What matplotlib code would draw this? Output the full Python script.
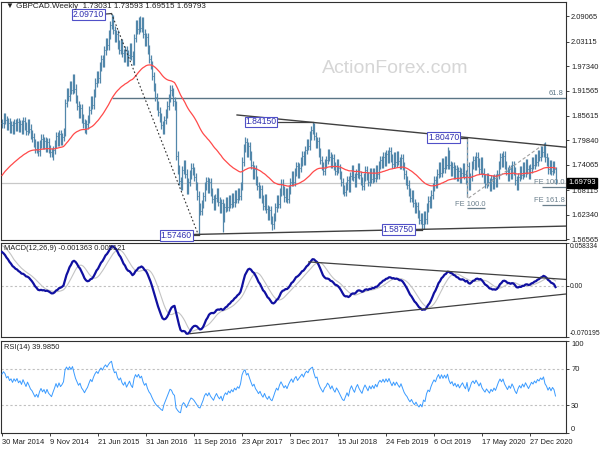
import numpy as np
import matplotlib
matplotlib.use("Agg")
import matplotlib.pyplot as plt
import matplotlib.transforms as mtransforms

# ---------------- data ----------------
closes = [
    1.838, 1.852, 1.846, 1.832, 1.840, 1.826, 1.834, 1.822, 1.838, 1.830,
    1.842, 1.828, 1.836, 1.824, 1.844, 1.832, 1.820, 1.838, 1.826, 1.812,
    1.805, 1.792, 1.778, 1.786, 1.772, 1.790, 1.802, 1.788, 1.796, 1.780,
    1.794, 1.778, 1.770, 1.762, 1.776, 1.790, 1.808, 1.794, 1.812, 1.798,
    1.806, 1.818, 1.886, 1.912, 1.902, 1.928, 1.918, 1.944, 1.920, 1.896,
    1.880, 1.862, 1.874, 1.850, 1.838, 1.822, 1.836, 1.848, 1.870, 1.892,
    1.882, 1.910, 1.934, 1.952, 1.944, 1.972, 1.990, 1.982, 2.010, 2.030,
    2.022, 2.048, 2.070, 2.084, 2.058, 2.040, 2.048, 2.024, 2.012, 2.026,
    2.004, 1.992, 2.010, 1.984, 2.000, 2.018, 1.998, 1.986, 2.040, 2.072,
    2.060, 2.082, 2.064, 2.078, 2.050, 2.030, 2.042, 2.012, 1.990, 1.976,
    1.950, 1.924, 1.900, 1.880, 1.866, 1.852, 1.834, 1.822, 1.846, 1.862,
    1.880, 1.898, 1.918, 1.912, 1.890, 1.880, 1.762, 1.730, 1.702, 1.690,
    1.728, 1.742, 1.720, 1.682, 1.700, 1.718, 1.734, 1.726, 1.712, 1.690,
    1.668, 1.640, 1.632, 1.648, 1.666, 1.690, 1.702, 1.684, 1.700, 1.676,
    1.660, 1.644, 1.662, 1.676, 1.654, 1.638, 1.650, 1.616, 1.640, 1.654,
    1.642, 1.660, 1.648, 1.664, 1.652, 1.670, 1.660, 1.676, 1.668, 1.690,
    1.748, 1.780, 1.794, 1.770, 1.784, 1.762, 1.740, 1.718, 1.730, 1.704,
    1.690, 1.672, 1.684, 1.660, 1.644, 1.662, 1.636, 1.620, 1.634, 1.610,
    1.600, 1.618, 1.640, 1.660, 1.648, 1.676, 1.696, 1.680, 1.664, 1.676,
    1.660, 1.682, 1.700, 1.716, 1.700, 1.724, 1.738, 1.720, 1.734, 1.748,
    1.762, 1.750, 1.776, 1.792, 1.786, 1.810, 1.822, 1.830, 1.808, 1.790,
    1.796, 1.770, 1.752, 1.738, 1.726, 1.744, 1.752, 1.768, 1.760, 1.742,
    1.756, 1.738, 1.726, 1.744, 1.732, 1.716, 1.700, 1.682, 1.676, 1.690,
    1.704, 1.686, 1.714, 1.730, 1.712, 1.698, 1.720, 1.734, 1.716, 1.702,
    1.690, 1.712, 1.728, 1.714, 1.700, 1.722, 1.708, 1.724, 1.710, 1.730,
    1.718, 1.740, 1.752, 1.744, 1.760, 1.748, 1.766, 1.754, 1.772, 1.756,
    1.742, 1.760, 1.746, 1.762, 1.750, 1.740, 1.756, 1.738, 1.718, 1.704,
    1.694, 1.676, 1.662, 1.670, 1.650, 1.636, 1.644, 1.624, 1.610, 1.618,
    1.600, 1.622, 1.612, 1.640, 1.656, 1.648, 1.670, 1.688, 1.704, 1.696,
    1.720, 1.738, 1.722, 1.746, 1.732, 1.752, 1.740, 1.766, 1.740, 1.724,
    1.736, 1.716, 1.730, 1.712, 1.726, 1.708, 1.722, 1.734, 1.718, 1.706,
    1.738, 1.690, 1.712, 1.740, 1.752, 1.738, 1.760, 1.746, 1.730, 1.748,
    1.722, 1.708, 1.696, 1.712, 1.700, 1.688, 1.706, 1.694, 1.710, 1.698,
    1.718, 1.740, 1.758, 1.746, 1.762, 1.740, 1.726, 1.712, 1.730, 1.718,
    1.740, 1.726, 1.704, 1.690, 1.712, 1.728, 1.716, 1.736, 1.722, 1.744,
    1.730, 1.716, 1.732, 1.748, 1.740, 1.756, 1.748, 1.766, 1.760, 1.776,
    1.770, 1.784, 1.758, 1.748, 1.730, 1.742, 1.726, 1.740, 1.7303, 1.69793,
]
last_ohlc = [1.73031, 1.73593, 1.69515, 1.69793]

# extreme highs / lows
hi_idx = [47, 73, 91, 113, 162, 207, 258, 297, 310, 361]
hi_val = [1.954, 2.0971, 2.090, 1.928, 1.807, 1.8415, 1.782, 1.782, 1.8047, 1.793]
lo_idx = [33, 55, 107, 131, 147, 180, 280, 310]
lo_val = [1.758, 1.815, 1.812, 1.5746, 1.581, 1.588, 1.5875, 1.664]

# labelled pivots
pivot_idx = [73, 131, 207, 280, 310]
pivot_val = [2.09710, 1.57460, 1.84150, 1.58750, 1.80470]
pivot_txt = ["2.09710", "1.57460", "1.84150", "1.58750", "1.80470"]

price_ticks = [2.09065, 2.03115, 1.97340, 1.91565, 1.85615,
               1.79840, 1.74065, 1.68115, 1.62340, 1.56565]
date_labels = ["30 Mar 2014", "9 Nov 2014", "21 Jun 2015", "31 Jan 2016",
               "11 Sep 2016", "23 Apr 2017", "3 Dec 2017", "15 Jul 2018",
               "24 Feb 2019", "6 Oct 2019", "17 May 2020", "27 Dec 2020"]
date_step = 32

# indicator starting states (history before the first visible bar)
ma_seed = 1.711
ema12_seed, ema26_seed = 1.830, 1.781
macd_prior = 0.056
rsi_gain_seed, rsi_loss_seed = 0.0100, 0.0056

macd_text = "MACD(12,26,9) -0.001363 0.005121"
rsi_text = "RSI(14) 39.9850"
title_text = "\u25BC GBPCAD.Weekly  1.73031 1.73593 1.69515 1.69793"
macd_lim = (-0.070195, 0.058334)

# ---------------- derived series ----------------
c = np.array(closes, dtype=float)
n = len(c)
idx = np.arange(n)
o = np.concatenate([[c[0]], c[:-1]])
o[-1] = last_ohlc[0]
wick = 0.010
hi = np.maximum(o, c) + wick
lo = np.minimum(o, c) - wick
for i, v in zip(hi_idx, hi_val):
    hi[i] = v
for i, v in zip(lo_idx, lo_val):
    lo[i] = v
hi[-1], lo[-1] = last_ohlc[1], last_ohlc[2]


def ema(vals, period, seed):
    a = 2.0 / (period + 1)
    e = seed
    out = []
    for v in vals:
        e = e + a * (v - e)
        out.append(e)
    return np.array(out)


ma55 = ema(c, 55, ma_seed)
macd = ema(c, 12, ema12_seed) - ema(c, 26, ema26_seed)
ext = np.concatenate([[macd_prior] * 8, macd])
signal = np.array([ext[i:i + 9].mean() for i in range(n)])

ag, al = rsi_gain_seed, rsi_loss_seed
rsi = []
prev = c[0]
for v in c:
    d = v - prev
    prev = v
    ag = (ag * 13 + max(d, 0)) / 14
    al = (al * 13 + max(-d, 0)) / 14
    rsi.append(100 - 100 / (1 + ag / al))
rsi = np.array(rsi)

# ---------------- figure ----------------
plt.rcParams['font.family'] = ['Liberation Sans', 'DejaVu Sans']
W, H = 600, 450
fig = plt.figure(figsize=(6, 4.5), dpi=100)


def px_axes(x0, y0, x1, y1):
    return fig.add_axes([x0 / W, 1 - y1 / H, (x1 - x0) / W, (y1 - y0) / H])


ax = px_axes(1, 2, 566, 240)
axm = px_axes(1, 243, 566, 337)
axr = px_axes(1, 341, 566, 433)

xlim = (-0.67, 376)
fs = 5.4
frame = "#303030"
for a in (ax, axm, axr):
    a.set_xlim(*xlim)
    a.yaxis.tick_right()
    a.tick_params(axis='y', direction='out', length=2.5, width=0.6,
                  labelsize=fs, pad=1.2, colors='#202020')
    a.tick_params(axis='x', bottom=False, labelbottom=False)
    for s in a.spines.values():
        s.set_color(frame)
        s.set_linewidth(0.8)

# ---- main panel ----
ax.set_ylim(1.5633, 2.1243)
ax.set_yticks(price_ticks)
ax.set_yticklabels([f"{t:.5f}" for t in price_ticks])

bar_col = "#5287aa"
ax.vlines(idx, lo, hi, color=bar_col, lw=0.9, zorder=3)
ax.hlines(o, idx - 0.55, idx, color=bar_col, lw=0.6, zorder=3)
ax.hlines(c, idx, idx + 0.55, color=bar_col, lw=0.6, zorder=3)
ax.plot(idx, ma55, color="#ff4a4a", lw=0.9, zorder=4)

# current price line and box
ax.axhline(c[-1], color="#c8c8c8", lw=0.9, zorder=1)
trans = mtransforms.blended_transform_factory(ax.transAxes, ax.transData)
ax.text(1.004, c[-1], f"{c[-1]:.5f}", transform=trans, fontsize=fs,
        color="white", va="center", ha="left", zorder=10,
        bbox=dict(boxstyle="square,pad=0.15", fc="black", ec="black"),
        clip_on=False)

# 61.8 retracement
fib618 = pivot_val[1] + 0.618 * (pivot_val[0] - pivot_val[1])
ax.hlines(fib618, pivot_idx[0], xlim[1], color="#5a7585", lw=1.0, zorder=2)
ax.text(xlim[1] - 2, fib618 + 0.004, "61.8", fontsize=fs, color="#5a7585",
        ha="right", va="bottom")

# dotted swing line
ax.plot([pivot_idx[0], pivot_idx[1]], [pivot_val[0], pivot_val[1]],
        ls=(0, (1.5, 2)), color="#303030", lw=0.8, zorder=5)

# trend lines
ax.plot([156.7, xlim[1]], [1.858, 1.782], color="#404040", lw=1.0, zorder=5)
ax.plot([127.3, xlim[1]], [1.5763, 1.5961], color="#404040", lw=1.0, zorder=5)

# dashed FE helper lines
ax.plot([310, 310], [1.8047, 1.664], ls=(0, (3, 2)), color="#a0a0a0", lw=0.8, zorder=5)
ax.plot([311, 360], [1.662, 1.786], ls=(0, (3, 2)), color="#a0a0a0", lw=0.8, zorder=5)

# pivot labels
label_offset = [5, 4.5, 24, 5.5, 5]
label_dy = [-0.0015, 0, 0, 0, 0]
for i, v, t, off, dy in zip(pivot_idx, pivot_val, pivot_txt, label_offset, label_dy):
    ax.plot([i - off, i], [v + dy, v], color="#404040", lw=0.9, zorder=5)
    ax.text(i - off, v + dy, t, fontsize=fs + 0.8, color="#3030b0", ha="right",
            va="center", zorder=8,
            bbox=dict(boxstyle="square,pad=0.1", fc="white", ec="#5050c8", lw=0.8))

# FE labels
fe_col = "#6a7f8c"
ax.text(xlim[1] - 1, 1.6985, "FE 100.0", fontsize=fs, color=fe_col, ha="right", va="center")
ax.hlines(1.6885, 360, xlim[1], color=fe_col, lw=0.9)
ax.text(xlim[1] - 1, 1.6555, "FE 161.8", fontsize=fs, color=fe_col, ha="right", va="center")
ax.hlines(1.6460, 360, xlim[1], color=fe_col, lw=0.9)
ax.text(322, 1.6475, "FE 100.0", fontsize=fs, color=fe_col, ha="right", va="center")
ax.hlines(1.6380, 310, 322, color=fe_col, lw=0.9)

# title and watermark
ax.text(0.009, 0.996, title_text, transform=ax.transAxes, fontsize=fs + 0.4,
        color="#202020", ha="left", va="top", zorder=9)
ax.text(0.697, 0.722, "ActionForex.com", transform=ax.transAxes, fontsize=14,
        color="#d6d6d6", ha="center", va="center", zorder=0)

# ---- MACD panel ----
axm.set_ylim(*macd_lim)
axm.axhline(0, color="#c0c0c0", lw=0.8, ls=(0, (2, 2)), zorder=1)
axm.plot(idx, signal, color="#c4c4c4", lw=0.8, zorder=2)
axm.plot(idx, macd, color="#1010a0", lw=1.6, zorder=3)
axm.plot([204.5, xlim[1]], [0.0325, 0.0085], color="#404040", lw=0.9, zorder=4)
axm.plot([125.2, xlim[1]], [-0.0657, -0.0114], color="#404040", lw=0.9, zorder=4)
axm.set_yticks([macd_lim[1], 0, macd_lim[0]])
axm.set_yticklabels(["0.058334", "0.00", "-0.070195"])
axm.tick_params(axis='y', labelsize=4.9, pad=0.6, length=2)
tl = axm.get_yticklabels()
tl[0].set_va("top")
tl[2].set_va("bottom")
axm.text(0.006, 0.975, macd_text, transform=axm.transAxes, fontsize=fs,
         color="#202020", ha="left", va="top", zorder=9)

# ---- RSI panel ----
axr.set_ylim(0, 100)
for lvl in (70, 30):
    axr.axhline(lvl, color="#c0c0c0", lw=0.8, ls=(0, (2, 2)), zorder=1)
axr.plot(idx, rsi, color="#3a9bff", lw=0.7, zorder=3)
axr.set_yticks([100, 70, 30, 0])
axr.set_yticklabels(["100", "70", "30", "0"])
tl = axr.get_yticklabels()
tl[0].set_va("top")
tl[3].set_va("bottom")
axr.text(0.006, 0.965, rsi_text, transform=axr.transAxes, fontsize=fs,
         color="#202020", ha="left", va="top", zorder=9)

xt = [k * date_step for k in range(len(date_labels))]
axr.set_xticks(xt)
axr.set_xticklabels(date_labels)
axr.tick_params(axis='x', bottom=True, labelbottom=True, direction='out',
                length=2.5, width=0.6, labelsize=fs, pad=1.5, colors='#202020')
for t in axr.get_xticklabels():
    t.set_ha("left")

fig.savefig("out.png", dpi=100, facecolor="white")
